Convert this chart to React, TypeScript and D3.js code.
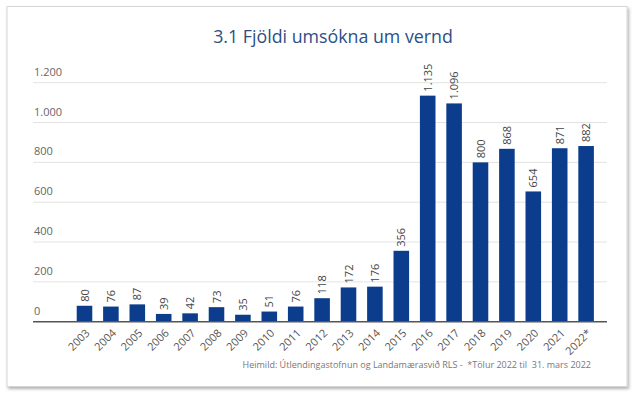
import * as d3 from "d3";
import React from "react";

const years = ["2003", "2004", "2005", "2006", "2007", "2008", "2009", "2010", "2011", "2012",
  "2013", "2014", "2015", "2016", "2017", "2018", "2019", "2020", "2021", "2022*"];
const applications = [80, 76, 87, 39, 42, 73, 35, 51, 76, 118, 172, 176, 356, 1135, 1096, 800, 868, 654, 871, 882];
const yTicks = [0, 200, 400, 600, 800, 1000, 1200];

const W = 638;
const H = 397;
const font = "'Open Sans', 'Noto Sans', sans-serif";

// icelandic thousands separator is a dot
const fmt = (v: number) => d3.format(",")(v).replace(/,/g, ".");

export default function App() {
  const x = d3.scaleBand<string>()
    .domain(years)
    .range([71.3, 599.3])
    .paddingInner(0.41)
    .paddingOuter(0.205);
  const y = d3.scaleLinear().domain([0, 1200]).range([321.7, 82.7]);

  return (
    <svg width={W} height={H} style={{ position: "absolute", left: 0, top: 0 }}>
      <defs>
        <filter id="shadow" x="-5%" y="-5%" width="110%" height="110%">
          <feDropShadow dx="1.5" dy="2" stdDeviation="1.5" floodColor="#000" floodOpacity="0.3" />
        </filter>
      </defs>
      <rect x={0} y={0} width={W} height={H} fill="#fff" />
      <rect x={7} y={6.5} width={620} height={380} fill="#fff" stroke="#d6d6d6" strokeWidth={1} filter="url(#shadow)" />

      <text x={333} y={43} textAnchor="middle" fontFamily={font} fontSize={17.8} fill="#2b4f86">
        3.1 Fjöldi umsókna um vernd
      </text>

      {yTicks.map((t) => (
        <g key={t}>
          {t > 0 && <line x1={33} x2={607} y1={y(t)} y2={y(t)} stroke="#e3e3e3" strokeWidth={1} />}
          <text x={34} y={y(t) - 7} fontFamily={font} fontSize={11} fill="#666">{fmt(t)}</text>
        </g>
      ))}

      {years.map((yr, i) => {
        const v = applications[i];
        const bx = x(yr)!;
        const cx = bx + x.bandwidth() / 2;
        return (
          <g key={yr}>
            <rect x={bx} y={y(v)} width={x.bandwidth()} height={y(0) - y(v)} fill="#0b3d8c" />
            <text
              transform={`translate(${cx + 4},${y(v) - 4}) rotate(-90)`}
              fontFamily={font} fontSize={11} fill="#444"
            >
              {fmt(v)}
            </text>
            <text
              transform={`translate(${cx + 6},${y(0) + 12}) rotate(-45)`}
              textAnchor="end" fontFamily={font} fontSize={11} fill="#555"
            >
              {yr}
            </text>
          </g>
        );
      })}

      <line x1={33} x2={607} y1={y(0)} y2={y(0)} stroke="#555" strokeWidth={1.5} />

      <text x={591} y={368} textAnchor="end" fontFamily={font} fontSize={9} fill="#777" style={{ whiteSpace: "pre" }}>
        {"Heimild: Útlendingastofnun og Landamærasvið RLS -  *Tölur 2022 til  31. mars 2022"}
      </text>
    </svg>
  );
}
